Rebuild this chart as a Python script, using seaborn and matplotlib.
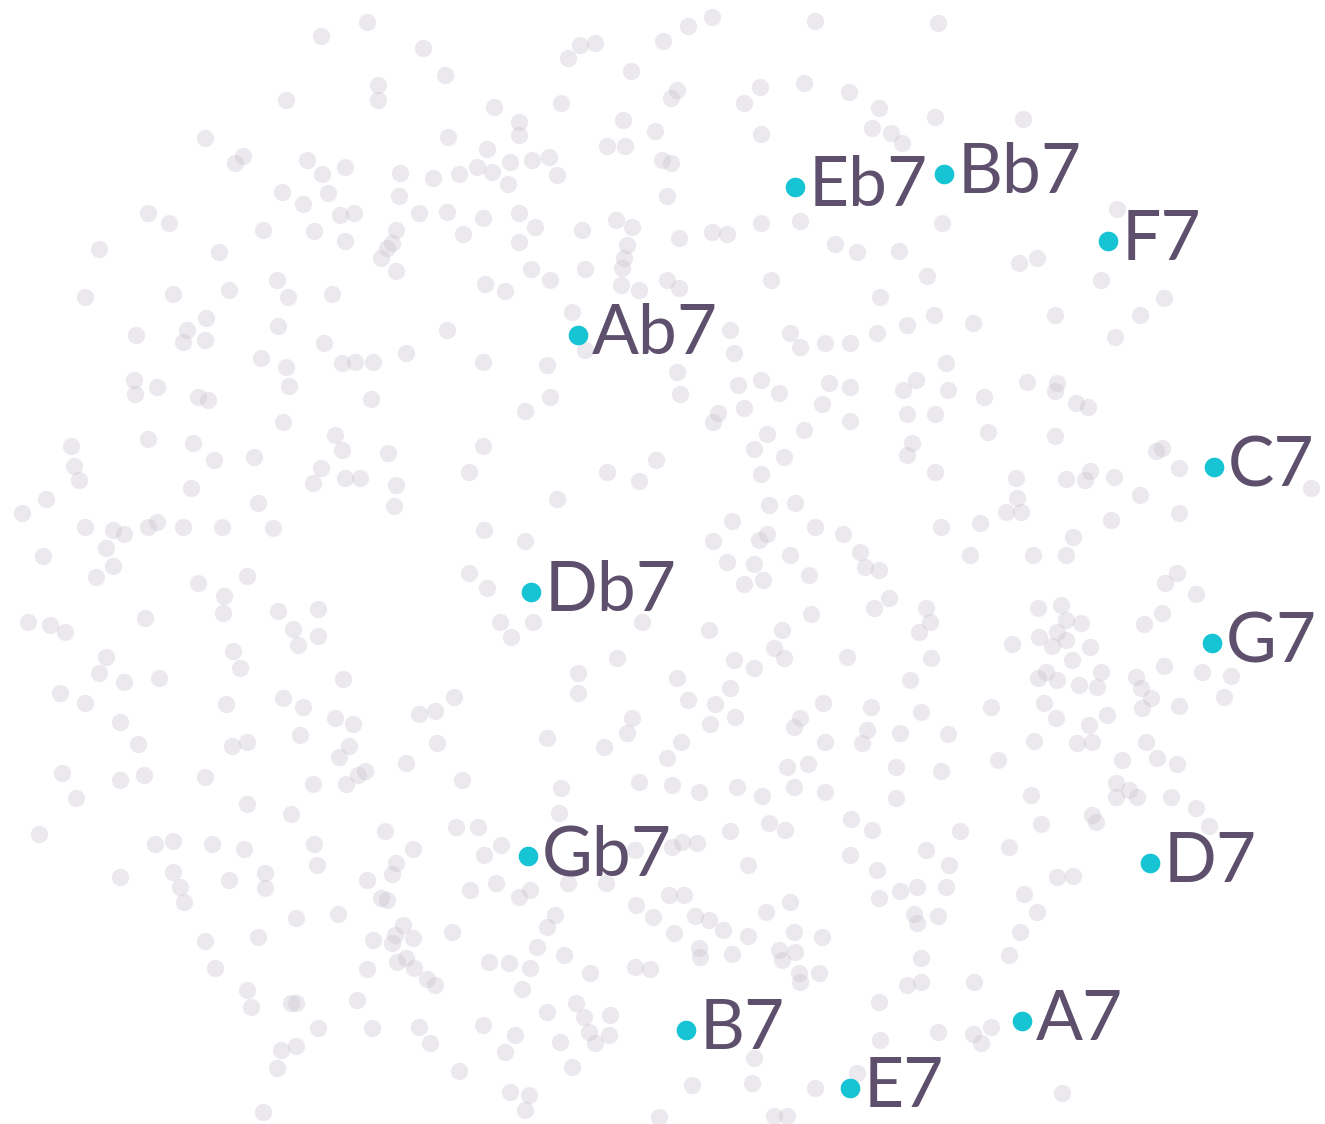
import matplotlib
matplotlib.use("Agg")
import matplotlib.pyplot as plt
import seaborn as sns

sns.set_theme(style="white")
plt.rcParams["font.family"] = ["Lato", "DejaVu Sans"]

# background cloud of voicings (embedding coords)
grey_x = [
    367, 321, 423, 378, 378, 286, 205, 243, 235, 307, 322, 345, 400, 433, 282, 328, 399, 303, 148, 169,
    340, 354, 419, 263, 314, 396, 345, 392, 387, 381, 396, 99, 219, 277, 288, 332, 85, 173, 229, 206,
    136, 187, 183, 205, 278, 324, 406, 261, 286, 342, 355, 373,
    712, 815, 688, 663, 595, 580, 568, 631, 445, 677, 671, 760, 804, 849, 744, 879, 494, 561, 519, 519,
    623, 655, 761, 872, 448, 487, 607, 625, 510, 532, 549, 477, 492, 459, 557, 662, 671, 508, 667, 447,
    483, 519, 535, 463, 519, 582, 616, 632, 679, 712, 727, 761, 800, 835, 857, 627, 624, 622, 531, 585,
    550, 485, 505, 621, 639, 667, 679, 771, 880, 572, 447, 730, 734, 790, 800, 825, 850, 877, 483, 547,
    677, 585,
    938, 935, 1023, 891, 902, 942, 899, 927, 1019, 1037, 1117, 1101, 1164, 1140, 1055, 1115, 934, 907, 973, 946,
    134, 135, 157, 198, 208, 289, 371, 283, 71, 148, 193, 214, 254, 335, 342, 388, 321, 313, 345, 360,
    396, 394, 74, 79, 46, 22, 191, 258, 85, 113, 124, 148, 157, 183, 222, 273, 106, 43, 113, 96,
    198, 247, 224, 223, 278, 318, 28, 50, 65, 145, 293, 318, 298, 106, 99, 124, 159, 233, 240, 343,
    60, 85, 120, 226, 283, 303, 335, 353, 419, 435, 300, 138, 247, 232, 349, 437,
    680, 738, 761, 779, 829, 850, 822, 850, 550, 525, 718, 713, 744, 767, 754, 804, 784, 761, 483, 469,
    607, 639, 656, 557, 769, 795, 732, 815, 843, 484, 525, 713, 759, 767, 790, 860, 865, 879, 727, 754,
    763, 744, 809, 469, 487, 874, 811, 500, 533, 511, 642, 709, 782, 774, 784, 734, 754, 847, 617, 578,
    578, 677, 730, 688, 715, 823, 871, 454, 632, 627, 710, 735, 800, 794, 867, 547, 604, 681, 825, 862,
    916, 903, 948, 984, 1027, 1057, 1055, 1076, 1088, 907, 935, 988, 1055, 912, 907, 935, 1016, 1017, 1006, 1021,
    1066, 1085, 1090, 1114, 1140, 1156, 1162, 1179, 1311, 1179, 1111, 941, 980, 1073, 970, 1033, 1066, 889, 1177, 1165,
    1196, 926, 930, 919, 1038, 1061, 1066, 1081, 1057, 1039, 1012, 1052, 1066, 1090, 1162, 1144, 1072, 931, 1164, 1202,
    1231, 1224, 910, 1038, 1057, 1046, 1101, 1079, 1097, 1136, 1141, 1151, 1142, 1179, 921, 991, 1044, 1056, 1107, 1089,
    900, 948, 1034, 1077, 1092, 1146,
    339, 406, 62, 120, 144, 205, 365, 358, 313, 346, 76, 247, 291, 39, 385, 155, 173, 212, 244, 314,
    413, 120, 173, 180, 184, 229, 265, 265, 317, 396, 392, 367, 387, 381, 296, 338, 403, 395, 373, 392,
    413, 205, 258, 215, 367, 397, 406, 414, 427, 435, 247, 251, 291, 296, 357, 318, 372, 419, 430, 281,
    296, 277, 263,
    667, 787, 808, 462, 639, 672, 561, 699, 737, 762, 794, 825, 559, 456, 478, 730, 769, 785, 851, 872,
    501, 484, 682, 697, 672, 635, 748, 850, 877, 470, 496, 530, 519, 568, 606, 636, 669, 684, 790, 766,
    879, 555, 547, 452, 653, 674, 695, 709, 723, 748, 794, 822, 537, 564, 489, 509, 530, 590, 635, 650,
    699, 700, 732, 779, 782, 795, 799, 819, 800, 522, 576, 547, 584, 610, 879, 483, 515, 505, 560, 595,
    609, 589, 880, 754, 459, 572, 510, 529, 525, 692, 752, 815, 857, 659, 774, 787,
    896, 941, 998, 1122, 1157, 1177, 896, 1031, 1116, 1116, 1129, 1137, 1171, 1196, 1209, 1092, 1096, 1041, 960, 926,
    949, 1009, 1057, 1073, 1024, 1037, 917, 900, 946, 914, 917, 938, 1020, 1009, 921, 907, 921, 974, 938, 973,
    991, 981, 1062,
]
grey_y = [
    22, 36, 48, 85, 100, 100, 138, 156, 163, 160, 174, 167, 173, 178, 192, 193, 196, 204, 213, 223,
    215, 213, 213, 230, 231, 230, 241, 243, 248, 258, 271, 249, 252, 280, 297, 294, 297, 294, 290, 318,
    335, 330, 342, 340, 326, 343, 353, 358, 367, 363, 362, 362,
    17, 21, 26, 41, 43, 45, 58, 71, 75, 90, 98, 87, 83, 92, 103, 108, 107, 103, 122, 135,
    120, 131, 134, 128, 137, 149, 146, 146, 162, 160, 157, 167, 172, 174, 175, 160, 163, 184, 196, 212,
    218, 213, 227, 234, 242, 230, 220, 227, 238, 232, 234, 223, 221, 244, 252, 245, 258, 268, 269, 269,
    280, 284, 291, 285, 290, 280, 288, 280, 297, 312, 330, 330, 353, 333, 347, 343, 343, 333, 362, 365,
    372, 350,
    23, 117, 119, 133, 143, 223, 251, 276, 263, 258, 209, 280, 298, 315, 315, 337, 315, 325, 323, 363,
    380, 394, 387, 397, 400, 386, 399, 422, 446, 439, 443, 460, 457, 435, 450, 453, 468, 483, 478, 478,
    485, 506, 466, 480, 499, 513, 488, 503, 527, 530, 534, 527, 522, 527, 527, 528, 548, 556, 566, 577,
    583, 576, 596, 613, 611, 609, 622, 625, 632, 618, 629, 636, 645, 657, 673, 682, 678, 651, 668, 679,
    693, 703, 722, 704, 698, 707, 718, 724, 714, 711, 735, 744, 742, 746, 746, 743,
    394, 385, 380, 393, 383, 387, 404, 421, 397, 411, 413, 422, 408, 434, 449, 430, 457, 474, 446, 472,
    472, 481, 460, 499, 505, 503, 521, 527, 534, 530, 541, 541, 540, 534, 555, 552, 567, 570, 562, 564,
    580, 584, 575, 573, 588, 608, 614, 622, 622, 637, 622, 630, 630, 648, 658, 660, 668, 657, 658, 673,
    693, 678, 688, 700, 704, 703, 707, 697, 718, 733, 724, 717, 718, 727, 730, 738, 747, 742, 742, 743,
    380, 390, 390, 397, 382, 383, 391, 403, 407, 414, 414, 432, 436, 443, 455, 472, 478, 498, 512, 512,
    479, 480, 471, 477, 495, 451, 448, 468, 488, 513, 520, 527, 523, 537, 555, 555, 555, 598, 573, 583,
    594, 608, 622, 632, 608, 605, 620, 623, 632, 637, 644, 646, 640, 647, 613, 624, 660, 658, 666, 672,
    676, 697, 680, 678, 680, 672, 672, 685, 687, 677, 688, 698, 708, 706, 712, 707, 703, 718, 715, 725,
    733, 734, 741, 743, 742, 742,
    757, 763, 773, 780, 775, 777, 771, 775, 784, 784, 798, 804, 814, 834, 831, 844, 841, 844, 849, 844,
    849, 877, 872, 887, 902, 880, 873, 888, 865, 863, 874, 880, 900, 898, 918, 914, 925, 935, 940, 943,
    938, 941, 937, 968, 969, 962, 958, 968, 979, 985, 990, 1007, 1003, 1003, 1000, 1028, 1028, 1027, 1043, 1050,
    1046, 1068, 1112,
    758, 767, 764, 780, 782, 785, 788, 792, 787, 796, 787, 792, 813, 827, 827, 831, 823, 830, 819, 830,
    845, 855, 842, 843, 847, 850, 865, 855, 870, 890, 883, 890, 897, 883, 883, 905, 895, 895, 902, 912,
    898, 915, 927, 932, 917, 933, 916, 920, 930, 936, 932, 937, 947, 955, 962, 963, 968, 973, 967, 969,
    948, 957, 954, 950, 960, 952, 973, 973, 982, 989, 1003, 1012, 1017, 1015, 1002, 1025, 1035, 1052, 1042, 1043,
    1035, 1032, 1040, 1058, 1071, 1067, 1092, 1095, 1110, 1085, 1083, 1088, 1073, 1117, 1116, 1116,
    767, 771, 760, 760, 758, 764, 798, 795, 783, 797, 790, 797, 797, 808, 826, 815, 822, 824, 831, 850,
    865, 847, 877, 876, 894, 912, 887, 891, 887, 914, 923, 916, 932, 955, 958, 985, 982, 982, 1032, 1034,
    1027, 1043, 1093,
]

# highlighted dominant seventh chords
chords = ["Eb7", "Bb7", "F7", "Ab7", "C7", "Db7", "G7", "Gb7", "D7", "B7", "A7", "E7"]
chord_x = [795, 944, 1108, 578, 1214, 531, 1212, 528, 1150, 686, 1022, 850]
chord_y = [187, 174, 241, 335, 467, 592, 643, 856, 863, 1030, 1021, 1088]

fig = plt.figure(figsize=(13.25, 11.24), dpi=100)
ax = fig.add_axes([0, 0, 1, 1])

sns.scatterplot(x=grey_x, y=grey_y, color="#c8c2ce", alpha=0.36, s=155,
                linewidth=0, ax=ax, zorder=1)
sns.scatterplot(x=chord_x, y=chord_y, color="#16c4d4", s=200,
                linewidth=0, ax=ax, zorder=3)

for name, x, y in zip(chords, chord_x, chord_y):
    ax.annotate(name, (x, y), xytext=(10, -14), textcoords="offset points",
                ha="left", va="baseline", fontsize=50, color="#5e506d", zorder=4)

ax.set_xlim(0, 1325)
ax.set_ylim(1124, 0)
ax.axis("off")

fig.savefig("out.png", dpi=100, facecolor="white")
